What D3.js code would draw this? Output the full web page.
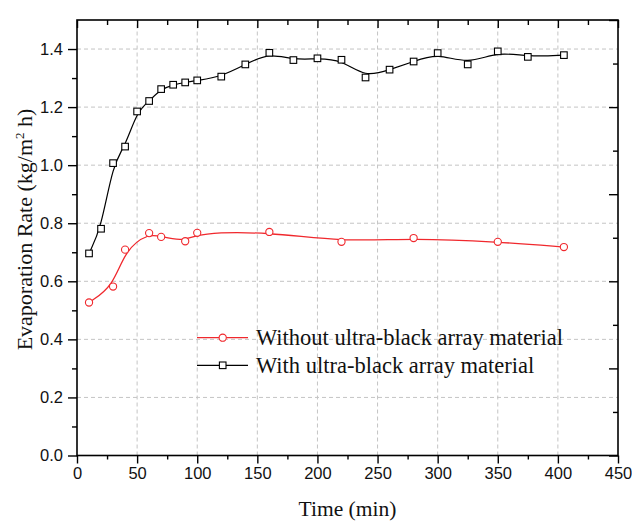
<!DOCTYPE html>
<html>
<head>
<meta charset="utf-8">
<script src="https://cdn.jsdelivr.net/npm/d3@7"></script>
<style>
  html, body { margin: 0; padding: 0; background: #fff; }
  svg { display: block; }
</style>
</head>
<body>
<svg id="chart" width="632" height="523"></svg>
<script>
// ---- data ----
const timeWith = [10, 20, 30, 40, 50, 60, 70, 80, 90, 100, 120, 140, 160, 180, 200, 220, 240, 260, 280, 300, 325, 350, 375, 405];
const rateWith = [0.696, 0.781, 1.007, 1.064, 1.185, 1.221, 1.262, 1.277, 1.285, 1.292, 1.305, 1.347, 1.387, 1.362, 1.368, 1.363, 1.302, 1.329, 1.357, 1.386, 1.347, 1.392, 1.373, 1.379];
const timeWithout = [10, 30, 40, 60, 70, 90, 100, 160, 220, 280, 350, 405];
const rateWithout = [0.527, 0.582, 0.709, 0.766, 0.753, 0.738, 0.767, 0.770, 0.736, 0.749, 0.736, 0.718];
const xTicks = [0, 50, 100, 150, 200, 250, 300, 350, 400, 450];
const yTicks = [0.0, 0.2, 0.4, 0.6, 0.8, 1.0, 1.2, 1.4];
const seriesNames = ["Without ultra-black array material", "With ultra-black array material"];

// ---- layout ----
const W = 632, H = 523;
const m = { left: 77, right: 14, top: 20, bottom: 67.5 };
const svg = d3.select("#chart");
const x = d3.scaleLinear().domain([0, 450]).range([m.left, W - m.right]);
const y = d3.scaleLinear().domain([0, 1.5]).range([H - m.bottom, m.top]);
const X0 = x(0), X1 = x(450), Y0 = y(0), Y1 = y(1.5);

// grid
const grid = svg.append("g").attr("stroke", "#c4c4c4").attr("stroke-width", 1).attr("stroke-dasharray", "4,3");
xTicks.filter(t => t > 0 && t < 450).forEach(t => {
  grid.append("line").attr("x1", x(t)).attr("x2", x(t)).attr("y1", Y0).attr("y2", Y1);
});
yTicks.filter(t => t > 0).forEach(t => {
  grid.append("line").attr("x1", X0).attr("x2", X1).attr("y1", y(t)).attr("y2", y(t));
});

// axes
const tickFont = "'Liberation Sans', Arial, sans-serif";
const xMinor = d3.range(25, 450, 50);
const yMinor = d3.range(0.1, 1.5, 0.2);

svg.append("g").attr("transform", `translate(0,${Y0})`)
  .call(d3.axisBottom(x).tickValues(xTicks).tickSize(8).tickPadding(4).tickFormat(d3.format("d")));
svg.append("g").attr("transform", `translate(0,${Y0})`)
  .call(d3.axisBottom(x).tickValues(xMinor).tickSize(4).tickFormat(""));
svg.append("g").attr("transform", `translate(${X0},0)`)
  .call(d3.axisLeft(y).tickValues(yTicks).tickSize(9).tickPadding(5).tickFormat(d3.format(".1f")));
svg.append("g").attr("transform", `translate(${X0},0)`)
  .call(d3.axisLeft(y).tickValues(yMinor).tickSize(5).tickFormat(""));
// top axis (inward ticks)
svg.append("g").attr("transform", `translate(0,${Y1})`)
  .call(d3.axisBottom(x).tickValues(xTicks).tickSize(8).tickFormat(""));
svg.append("g").attr("transform", `translate(0,${Y1})`)
  .call(d3.axisBottom(x).tickValues(xMinor).tickSize(5).tickFormat(""));
// right axis (inward ticks)
svg.append("g").attr("transform", `translate(${X1},0)`)
  .call(d3.axisLeft(y).tickValues([0, 0.3, 0.6, 0.9, 1.2, 1.5]).tickSize(9).tickFormat(""));
svg.append("g").attr("transform", `translate(${X1},0)`)
  .call(d3.axisLeft(y).tickValues([0.15, 0.45, 0.75, 1.05, 1.35]).tickSize(5).tickFormat(""));

svg.selectAll(".tick line").attr("stroke", "#000").attr("stroke-width", 1.4);
svg.selectAll(".tick text").attr("font-family", tickFont).attr("font-size", 16.5).attr("fill", "#111");
svg.selectAll(".domain").remove();
// frame
svg.append("rect").attr("x", X0).attr("y", Y1).attr("width", X1 - X0).attr("height", Y0 - Y1)
  .attr("fill", "none").attr("stroke", "#000").attr("stroke-width", 1.6);

// lines
const redC = "#f0282d";
const lineGen = d3.line().x(d => x(d[0])).y(d => y(d[1])).curve(d3.curveBasis);
const dWithout = timeWithout.map((t, i) => [t, rateWithout[i]]);
const dWith = timeWith.map((t, i) => [t, rateWith[i]]);

svg.append("path").datum(dWithout).attr("d", lineGen).attr("fill", "none").attr("stroke", redC).attr("stroke-width", 1.3);
svg.append("path").datum(dWith).attr("d", lineGen).attr("fill", "none").attr("stroke", "#000").attr("stroke-width", 1.2);

svg.append("g").selectAll("circle").data(dWithout).join("circle")
  .attr("cx", d => x(d[0])).attr("cy", d => y(d[1])).attr("r", 3.6)
  .attr("fill", "#fff").attr("stroke", redC).attr("stroke-width", 1.1);
const sq = 6.6;
svg.append("g").selectAll("rect").data(dWith).join("rect")
  .attr("x", d => x(d[0]) - sq / 2).attr("y", d => y(d[1]) - sq / 2).attr("width", sq).attr("height", sq)
  .attr("fill", "#fff").attr("stroke", "#000").attr("stroke-width", 1.1);

// legend
const serif = "'Liberation Serif', 'Times New Roman', serif";
const leg = svg.append("g");
const legY = [337.7, 365.3];
const legColors = [redC, "#000"];
seriesNames.forEach((name, i) => {
  leg.append("line").attr("x1", 197).attr("x2", 248).attr("y1", legY[i]).attr("y2", legY[i])
    .attr("stroke", legColors[i]).attr("stroke-width", 1.3);
  if (i === 0) {
    leg.append("circle").attr("cx", 222.7).attr("cy", legY[i]).attr("r", 3.6)
      .attr("fill", "#fff").attr("stroke", redC).attr("stroke-width", 1.1);
  } else {
    leg.append("rect").attr("x", 222.7 - sq / 2).attr("y", legY[i] - sq / 2).attr("width", sq).attr("height", sq)
      .attr("fill", "#fff").attr("stroke", "#000").attr("stroke-width", 1.1);
  }
  leg.append("text").attr("x", 256).attr("y", legY[i] + 7.5)
    .attr("font-family", serif).attr("font-size", 22.5).attr("fill", "#111").text(name);
});

// axis titles
svg.append("text").attr("x", (X0 + X1) / 2).attr("y", 516).attr("text-anchor", "middle")
  .attr("font-family", serif).attr("font-size", 21.5).attr("fill", "#111").text("Time (min)");
const yt = svg.append("text").attr("transform", `translate(32,${229.5}) rotate(-90)`).attr("text-anchor", "middle")
  .attr("font-family", serif).attr("font-size", 22).attr("fill", "#111");
yt.append("tspan").text("Evaporation Rate (kg/m");
yt.append("tspan").attr("dy", -8).attr("font-size", 13).text("2");
yt.append("tspan").attr("dy", 8).text(" h)");
</script>
</body>
</html>
